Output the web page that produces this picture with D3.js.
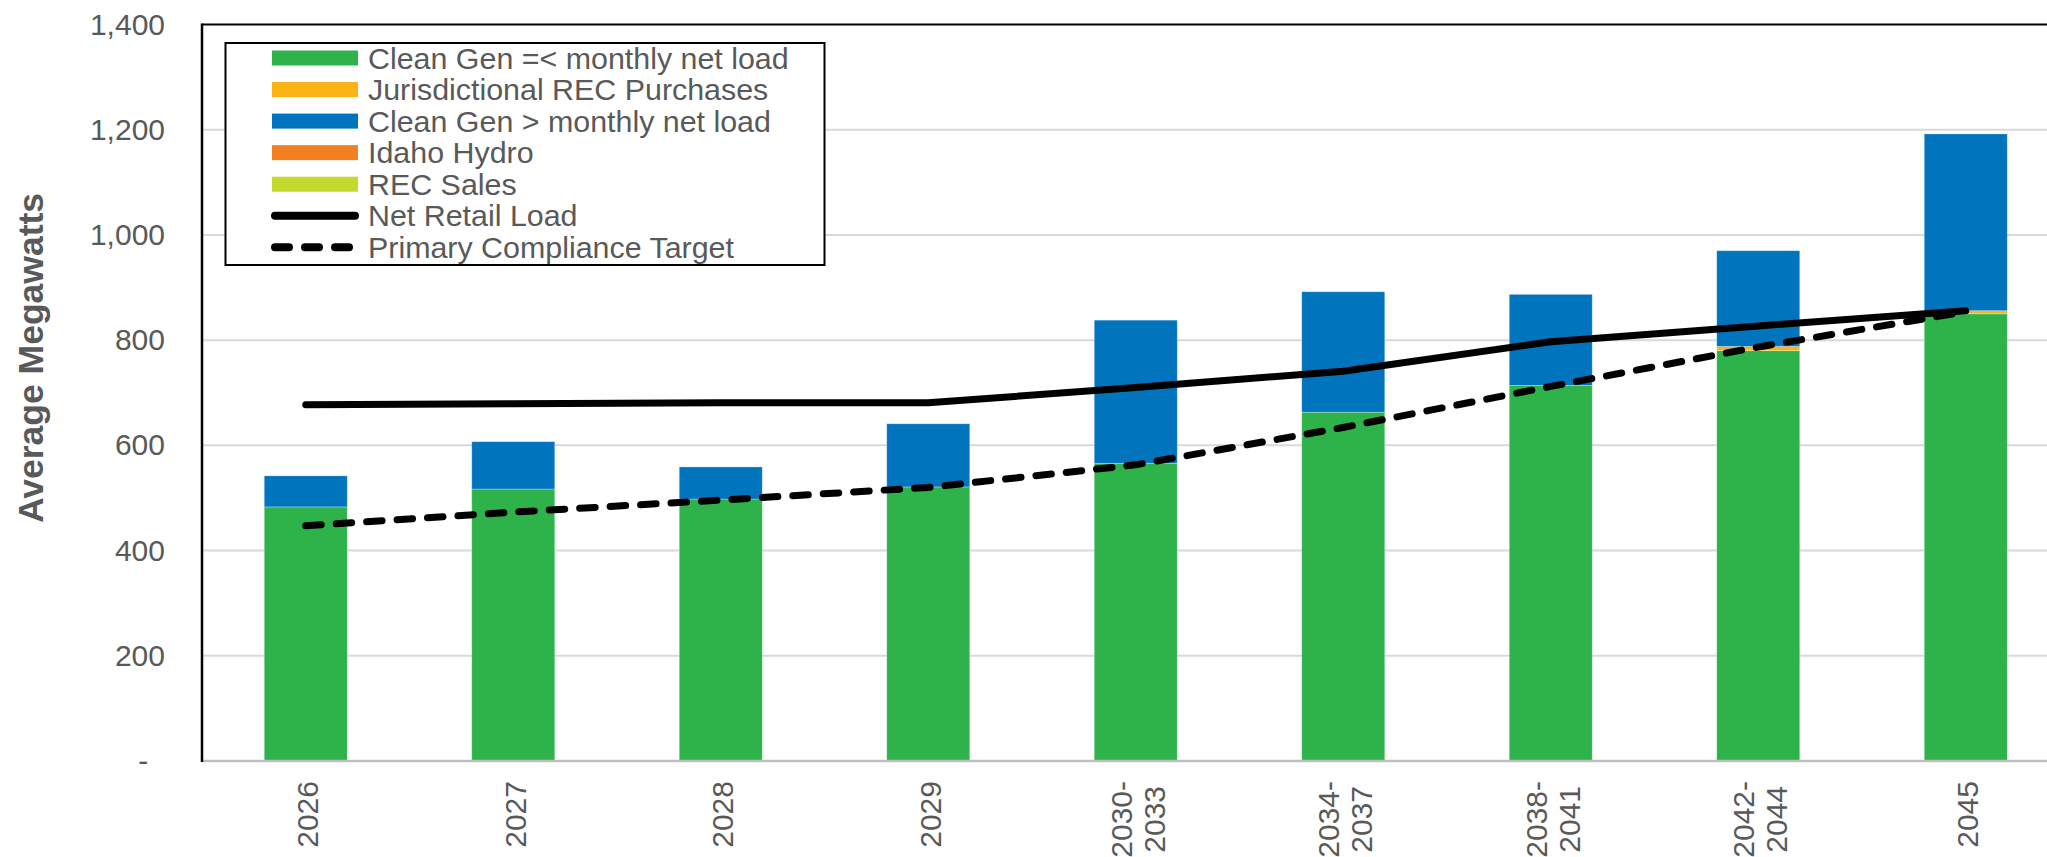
<!DOCTYPE html>
<html>
<head>
<meta charset="utf-8">
<script src="https://cdn.jsdelivr.net/npm/d3@7"></script>
<style>
  body { margin: 0; background: #fff; }
  svg { display: block; }
  text { font-family: "Liberation Sans", Arial, sans-serif; }
</style>
</head>
<body>
<svg id="chart" width="2047" height="857"></svg>
<script>
// ---- Data (average MW) ----
const categories = ["2026", "2027", "2028", "2029", "2030-2033", "2034-2037", "2038-2041", "2042-2044", "2045"];
const cleanGenWithinLoad = [483, 517, 498, 521, 566, 663, 714, 780, 850];
const jurisdictionalRecPurchases = [0, 0, 0, 0, 0, 0, 0, 8, 6];
const cleanGenAboveLoad = [59, 90, 61, 120, 272, 229, 173, 182, 336];
const idahoHydro = [0, 0, 0, 0, 0, 0, 0, 0, 0];
const recSales = [0, 0, 0, 0, 0, 0, 0, 0, 0];
const netRetailLoad = [677, 679, 681, 681, 710, 741, 797, 827, 856];
const primaryComplianceTarget = [447, 473, 496, 520, 563, 634, 712, 787, 854];
const yTicks = [0, 200, 400, 600, 800, 1000, 1200, 1400];

const barSeries = [
  { key: "cleanGenWithinLoad", name: "Clean Gen =< monthly net load", color: "#2eb34b", values: cleanGenWithinLoad },
  { key: "jurisdictionalRecPurchases", name: "Jurisdictional REC Purchases", color: "#fcb316", values: jurisdictionalRecPurchases },
  { key: "cleanGenAboveLoad", name: "Clean Gen > monthly net load", color: "#0074bd", values: cleanGenAboveLoad },
  { key: "idahoHydro", name: "Idaho Hydro", color: "#f47f21", values: idahoHydro },
  { key: "recSales", name: "REC Sales", color: "#c4d82e", values: recSales }
];
const lineSeries = [
  { name: "Net Retail Load", values: netRetailLoad, dash: null },
  { name: "Primary Compliance Target", values: primaryComplianceTarget, dash: "15.5 15" }
];

// ---- Layout ----
const W = 2047, H = 857;
const plotLeft = 202, plotTop = 24.5, plotBottom = 761;
const step = 207.5;
const textColor = "#595959";

const svg = d3.select("#chart");

const x = d3.scaleBand()
  .domain(categories)
  .range([plotLeft, plotLeft + step * categories.length])
  .paddingInner(0.6)
  .paddingOuter(0.3);

const y = d3.scaleLinear().domain([0, 1400]).range([plotBottom, plotTop]);

// Gridlines
svg.append("g")
  .selectAll("line")
  .data(yTicks.filter(v => v > 0 && v < 1400))
  .join("line")
  .attr("x1", plotLeft).attr("x2", W)
  .attr("y1", d => y(d)).attr("y2", d => y(d))
  .attr("stroke", "#d9d9d9").attr("stroke-width", 2);

// Stacked bars
const table = categories.map((c, i) => {
  const row = { category: c };
  barSeries.forEach(s => { row[s.key] = s.values[i]; });
  return row;
});
const stack = d3.stack().keys(barSeries.map(s => s.key));
const layers = stack(table);

svg.append("g")
  .selectAll("g")
  .data(layers)
  .join("g")
  .attr("fill", (d, i) => barSeries[i].color)
  .selectAll("rect")
  .data(d => d.filter(p => p[1] - p[0] > 0))
  .join("rect")
  .attr("x", d => x(d.data.category))
  .attr("width", x.bandwidth())
  .attr("y", d => y(d[1]))
  .attr("height", d => y(d[0]) - y(d[1]))
  .attr("stroke", "#ffffff").attr("stroke-opacity", 0.35).attr("stroke-width", 0.8);

// Plot frame: black top border and value axis, grey category axis
svg.append("line")
  .attr("x1", plotLeft).attr("x2", W).attr("y1", plotTop).attr("y2", plotTop)
  .attr("stroke", "#000").attr("stroke-width", 2);
svg.append("line")
  .attr("x1", plotLeft).attr("x2", W).attr("y1", plotBottom).attr("y2", plotBottom)
  .attr("stroke", "#bfbfbf").attr("stroke-width", 2.5);
svg.append("line")
  .attr("x1", plotLeft).attr("x2", plotLeft).attr("y1", plotTop - 1).attr("y2", plotBottom + 1)
  .attr("stroke", "#000").attr("stroke-width", 2.5);

// Y axis labels
const yAxis = svg.append("g")
  .attr("transform", `translate(${plotLeft},0)`)
  .call(d3.axisLeft(y)
    .tickValues(yTicks)
    .tickSize(0)
    .tickPadding(37)
    .tickFormat(v => v === 0 ? "-" : d3.format(",")(v)));
yAxis.select(".domain").remove();
yAxis.selectAll("text")
  .attr("font-size", 30)
  .attr("font-family", "'Liberation Sans', Arial, sans-serif")
  .attr("fill", textColor);
// zero label keeps a digit-wide space after the dash
yAxis.selectAll(".tick").filter(d => d === 0).select("text")
  .attr("x", function () { return -37 - 0.556 * 30; });

// Y axis title
svg.append("text")
  .attr("transform", `translate(43,358) rotate(-90)`)
  .attr("text-anchor", "middle")
  .attr("font-size", 35.5)
  .attr("font-weight", "bold")
  .attr("fill", textColor)
  .text("Average Megawatts");

// Category labels, rotated, split after the hyphen
const labelTop = 781;
const xLabels = svg.append("g");
categories.forEach(c => {
  const cut = c.indexOf("-");
  const lines = cut >= 0 ? [c.slice(0, cut + 1), c.slice(cut + 1)] : [c];
  const t = xLabels.append("text")
    .attr("font-size", 30)
    .attr("fill", textColor)
    .attr("text-anchor", "middle");
  lines.forEach((ln, i) => {
    t.append("tspan")
      .attr("x", 0)
      .attr("y", (i - (lines.length - 1) / 2) * 33 + 10.7)
      .text(ln);
  });
  const maxLen = d3.max(t.selectAll("tspan").nodes(), n => n.getComputedTextLength());
  t.attr("transform", `translate(${x(c) + x.bandwidth() / 2 + 2},${labelTop + maxLen / 2}) rotate(-90)`);
});

// Lines
const line = d3.line()
  .x((d, i) => x(categories[i]) + x.bandwidth() / 2)
  .y(d => y(d));

lineSeries.forEach(s => {
  const p = svg.append("path")
    .datum(s.values)
    .attr("d", line)
    .attr("fill", "none")
    .attr("stroke", "#000")
    .attr("stroke-width", 7)
    .attr("stroke-linecap", "round")
    .attr("stroke-linejoin", "round");
  if (s.dash) p.attr("stroke-dasharray", s.dash);
});

// Legend
const legend = svg.append("g");
legend.append("rect")
  .attr("x", 225.5).attr("y", 43)
  .attr("width", 599).attr("height", 222)
  .attr("fill", "#fff")
  .attr("stroke", "#000").attr("stroke-width", 2);

const rowY0 = 58, rowStep = 31.55;
const swX = 272, swW = 86, swH = 15, textX = 368;
const legendItems = [
  ...barSeries.map(s => ({ name: s.name, type: "bar", color: s.color })),
  ...lineSeries.map(s => ({ name: s.name, type: "line", dash: s.dash }))
];
legendItems.forEach((item, i) => {
  const cy = rowY0 + i * rowStep;
  if (item.type === "bar") {
    legend.append("rect")
      .attr("x", swX).attr("y", cy - swH / 2)
      .attr("width", swW).attr("height", swH)
      .attr("fill", item.color);
  } else {
    const l = legend.append("line")
      .attr("x1", swX + 3).attr("x2", swX + swW - 3)
      .attr("y1", cy).attr("y2", cy)
      .attr("stroke", "#000").attr("stroke-width", 8)
      .attr("stroke-linecap", "round");
    if (item.dash) l.attr("stroke-dasharray", "14 16");
  }
  legend.append("text")
    .attr("x", textX).attr("y", cy + 10.5)
    .attr("font-size", 30.4)
    .attr("fill", textColor)
    .text(item.name);
});
</script>
</body>
</html>
